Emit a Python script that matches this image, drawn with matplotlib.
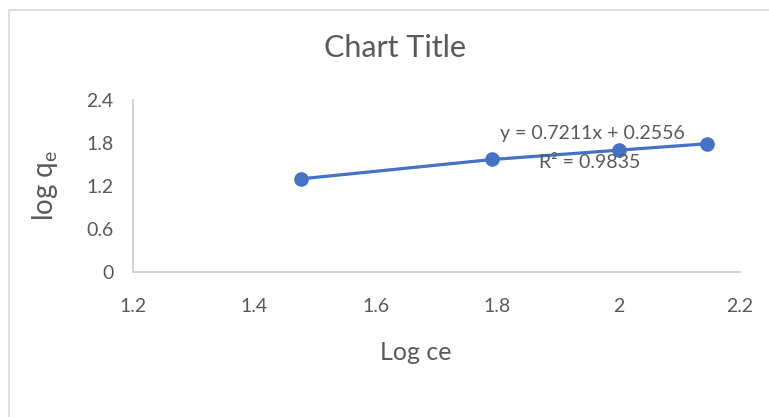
import matplotlib.pyplot as plt
from matplotlib.patches import Rectangle

# dados
log_ce = [1.477, 1.792, 2.0, 2.146]
log_qe = [1.30, 1.57, 1.70, 1.79]
x_ticks = [1.2, 1.4, 1.6, 1.8, 2.0, 2.2]
x_tick_labels = ["1.2", "1.4", "1.6", "1.8", "2", "2.2"]
y_ticks = [0, 0.6, 1.2, 1.8, 2.4]
y_tick_labels = ["0", "0.6", "1.2", "1.8", "2.4"]

plt.rcParams['font.family'] = ['Lato', 'DejaVu Sans']
cinza = "#595959"

fig = plt.figure(figsize=(7.69, 4.17), dpi=100)
fig.patches.append(Rectangle((9/769, -0.1), 1.1, 1 - 10/417 + 0.1, transform=fig.transFigure,
                             fill=False, edgecolor="#d9d9d9", lw=1.2))
ax = fig.add_axes([133/769, 1 - 272/417, 607/769, 172/417])

ax.plot(log_ce, log_qe, "-o", color="#4472C4", lw=2.3, markersize=9.5, clip_on=False)

ax.set_xlim(1.2, 2.2)
ax.set_ylim(0, 2.4)
ax.set_xticks(x_ticks, x_tick_labels)
ax.set_yticks(y_ticks, y_tick_labels)
ax.tick_params(length=0, labelsize=14, colors=cinza)
ax.tick_params(axis="x", pad=19)
ax.tick_params(axis="y", pad=14)
for s in ["top", "right"]:
    ax.spines[s].set_visible(False)
for s in ["left", "bottom"]:
    ax.spines[s].set_color("#d0d0d0")
    ax.spines[s].set_linewidth(1.3)

fig.text(395/769, 1 - 48/417, "Chart Title", ha="center", va="center", fontsize=22, color=cinza)
fig.text(416/769, 1 - 352/417, "Log ce", ha="center", va="center", fontsize=18, color=cinza)
fig.text(45/769, 1 - 185/417, r"log q$_\mathregular{e}$", ha="center", va="center",
         fontsize=20, color=cinza, rotation=90)
fig.text(592/769, 1 - 133/417, "y = 0.7211x + 0.2556", ha="center", va="center",
         fontsize=14, color=cinza)
fig.text(590/769, 1 - 163/417, "R² = 0.9835", ha="center", va="center",
         fontsize=14, color=cinza)

plt.savefig("out.png", dpi=100)
